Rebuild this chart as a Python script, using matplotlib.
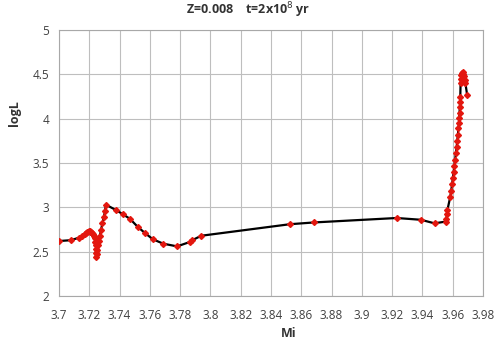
import matplotlib.pyplot as plt

# Track (x = Mi, y = logL)
mi_values = [
    3.700, 3.708, 3.7135, 3.7155, 3.717, 3.718, 3.7188, 3.7195, 3.7202, 3.7208,
    3.7214, 3.722, 3.7226, 3.7232, 3.7237, 3.7241, 3.7244, 3.7246, 3.7247, 3.7246,
    3.7250, 3.7254, 3.7258, 3.7263, 3.7270, 3.7278, 3.7287, 3.7296, 3.7304, 3.7310,
    3.7376, 3.7424, 3.7469, 3.7520, 3.7568, 3.7620, 3.7689, 3.7780, 3.7865, 3.7880,
    3.7940, 3.8525, 3.8685, 3.9230, 3.9390, 3.9480, 3.9555, 3.9558, 3.9562, 3.9565,
    3.9584, 3.9590, 3.9596, 3.9601, 3.9606, 3.9611, 3.9616, 3.9621, 3.9626, 3.9630,
    3.9634, 3.9638, 3.9641, 3.9643, 3.9645, 3.9647, 3.9649, 3.9650, 3.9652, 3.9655,
    3.9658, 3.9662, 3.9666, 3.9671, 3.9676, 3.9680, 3.9684, 3.9695,
]
logl_values = [
    2.62, 2.63, 2.66, 2.68, 2.70, 2.71, 2.72, 2.73, 2.73, 2.725,
    2.72, 2.71, 2.70, 2.68, 2.65, 2.61, 2.57, 2.53, 2.49, 2.44,
    2.47, 2.52, 2.57, 2.62, 2.68, 2.75, 2.82, 2.89, 2.96, 3.03,
    2.97, 2.92, 2.87, 2.78, 2.71, 2.64, 2.59, 2.56, 2.61, 2.63,
    2.68, 2.81, 2.83, 2.88, 2.86, 2.82, 2.84, 2.87, 2.92, 2.97,
    3.12, 3.19, 3.26, 3.33, 3.40, 3.47, 3.54, 3.61, 3.68, 3.75,
    3.82, 3.89, 3.95, 4.01, 4.07, 4.13, 4.19, 4.25, 4.40, 4.45,
    4.49, 4.52, 4.53, 4.51, 4.48, 4.44, 4.40, 4.27,
]

x_ticks = [3.70, 3.72, 3.74, 3.76, 3.78, 3.80, 3.82, 3.84, 3.86, 3.88, 3.90, 3.92, 3.94, 3.96, 3.98]
x_tick_labels = ['3.7', '3.72', '3.74', '3.76', '3.78', '3.8', '3.82', '3.84', '3.86', '3.88',
                 '3.9', '3.92', '3.94', '3.96', '3.98']
y_ticks = [2, 2.5, 3, 3.5, 4, 4.5, 5]
y_tick_labels = ['2', '2.5', '3', '3.5', '4', '4.5', '5']

plt.rcParams['font.family'] = ['Open Sans', 'DejaVu Sans']

fig = plt.figure(figsize=(5, 3.46), dpi=100)
ax = fig.add_axes([0.118, 0.1445, 0.848, 0.7685])

ax.plot(mi_values, logl_values, color='black', linewidth=1.6, zorder=3)
ax.plot(mi_values, logl_values, linestyle='none', marker='D', markersize=3.0,
        color='#e3170f', markeredgecolor='#e3170f', zorder=4)

ax.set_xlim(3.70, 3.98)
ax.set_ylim(2, 5)
ax.set_xticks(x_ticks)
ax.set_xticklabels(x_tick_labels)
ax.set_yticks(y_ticks)
ax.set_yticklabels(y_tick_labels)
ax.tick_params(length=0, labelsize=8.5, colors='#404040')
ax.tick_params(axis='x', pad=9)
ax.tick_params(axis='y', pad=7)

ax.grid(True, color='#bebebe', linewidth=0.8)
for spine in ax.spines.values():
    spine.set_color('#a8a8a8')
    spine.set_linewidth(0.8)

fig.text(0.497, 0.971, r'Z=0.008    t=2x10$^{8}$ yr', ha='center', va='center',
         fontsize=9, fontweight='bold', color='#333333')
fig.text(0.577, 0.035, 'Mi', ha='center', va='center',
         fontsize=9, fontweight='bold', color='#333333')
fig.text(0.028, 0.672, 'logL', ha='center', va='center', rotation=90,
         fontsize=9, fontweight='bold', color='#333333')

fig.savefig('out.png', dpi=100)
